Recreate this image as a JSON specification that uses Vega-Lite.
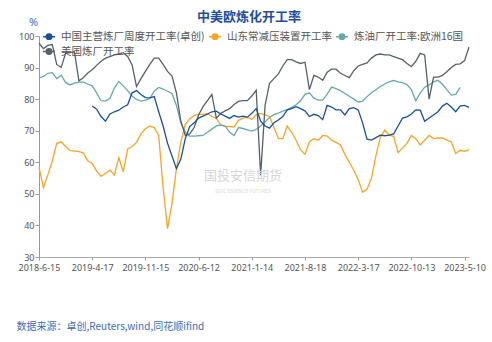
{
"$schema": "https://vega.github.io/schema/vega-lite/v6.json",
"width": 430, "height": 221,
"autosize": {"type": "none"},
"padding": {"left": 39, "top": 36, "right": 23, "bottom": 85},
"background": "white",
"title": {"text": "中美欧炼化开工率", "fontSize": 13, "font": "Noto Sans CJK SC", "fontWeight": "bold", "color": "#1F4E9E", "anchor": "middle", "dx": -5, "dy": 12},
"config": {"view": {"stroke": null}},
"data": {"values": [
{"d":"2018-06-15","cn":null,"sd":58.4,"eu":86.7,"us":97.7},
{"d":"2018-07-10","cn":null,"sd":52,"eu":87.2,"us":96},
{"d":"2018-08-05","cn":null,"sd":56,"eu":88.2,"us":97},
{"d":"2018-08-30","cn":null,"sd":60.5,"eu":88.4,"us":97.3},
{"d":"2018-09-25","cn":null,"sd":66,"eu":86.5,"us":91},
{"d":"2018-10-20","cn":null,"sd":66.5,"eu":87.6,"us":90},
{"d":"2018-11-15","cn":null,"sd":65,"eu":85.3,"us":94.5},
{"d":"2018-12-10","cn":null,"sd":63.7,"eu":84.5,"us":94.7},
{"d":"2019-01-05","cn":null,"sd":63.6,"eu":85.1,"us":95},
{"d":"2019-01-30","cn":null,"sd":63.4,"eu":85.4,"us":85.8},
{"d":"2019-02-25","cn":null,"sd":63,"eu":85.4,"us":86.8},
{"d":"2019-03-22","cn":null,"sd":60.5,"eu":84.8,"us":88.3},
{"d":"2019-04-17","cn":77.8,"sd":59.6,"eu":84.2,"us":89.3},
{"d":"2019-05-05","cn":76.8,"sd":57.2,"eu":82,"us":90.7},
{"d":"2019-05-22","cn":74.5,"sd":55.5,"eu":79.5,"us":92},
{"d":"2019-06-09","cn":73,"sd":56.5,"eu":79.4,"us":93},
{"d":"2019-06-27","cn":75.3,"sd":57.5,"eu":80.3,"us":93.5},
{"d":"2019-07-15","cn":76,"sd":56,"eu":83.5,"us":94},
{"d":"2019-08-01","cn":76.5,"sd":61.5,"eu":85.6,"us":94.3},
{"d":"2019-08-19","cn":77.5,"sd":57,"eu":84.2,"us":94.7},
{"d":"2019-09-06","cn":78.2,"sd":64.2,"eu":82.7,"us":93.5},
{"d":"2019-09-23","cn":82,"sd":65,"eu":81,"us":90.8},
{"d":"2019-10-11","cn":82.7,"sd":66.3,"eu":79.9,"us":84},
{"d":"2019-10-29","cn":81.5,"sd":69,"eu":79.4,"us":86.5},
{"d":"2019-11-15","cn":80.5,"sd":70.6,"eu":79.7,"us":88.8},
{"d":"2019-12-03","cn":80.4,"sd":71.5,"eu":80.2,"us":91},
{"d":"2019-12-20","cn":80.8,"sd":71,"eu":82.5,"us":93},
{"d":"2020-01-07","cn":76,"sd":68.5,"eu":83.7,"us":93},
{"d":"2020-01-24","cn":71.5,"sd":52,"eu":83.2,"us":91},
{"d":"2020-02-11","cn":66,"sd":39,"eu":82.5,"us":88.8},
{"d":"2020-02-28","cn":62,"sd":47,"eu":81.8,"us":87.3},
{"d":"2020-03-17","cn":58,"sd":58,"eu":78,"us":82},
{"d":"2020-04-03","cn":61,"sd":66.5,"eu":72.5,"us":73},
{"d":"2020-04-21","cn":67.5,"sd":72,"eu":69.5,"us":68.5},
{"d":"2020-05-08","cn":71.3,"sd":73.8,"eu":68.3,"us":69},
{"d":"2020-05-26","cn":72.5,"sd":74.8,"eu":68.3,"us":71},
{"d":"2020-06-12","cn":74,"sd":75.2,"eu":68.4,"us":75},
{"d":"2020-06-30","cn":74.6,"sd":75.2,"eu":68.5,"us":77.6},
{"d":"2020-07-18","cn":75.3,"sd":75.4,"eu":69.5,"us":79.5},
{"d":"2020-08-05","cn":76,"sd":74.5,"eu":70.5,"us":81.5},
{"d":"2020-08-23","cn":76.2,"sd":74,"eu":71.5,"us":74},
{"d":"2020-09-10","cn":75.3,"sd":71.8,"eu":71.8,"us":75.5},
{"d":"2020-09-28","cn":74.6,"sd":71.3,"eu":71.5,"us":76.3},
{"d":"2020-10-16","cn":73.9,"sd":71.4,"eu":69.5,"us":77},
{"d":"2020-11-03","cn":74.8,"sd":71.2,"eu":68.5,"us":78.3},
{"d":"2020-11-21","cn":74.3,"sd":73.3,"eu":71,"us":79.3},
{"d":"2020-12-09","cn":74.6,"sd":74,"eu":70.7,"us":79.5},
{"d":"2020-12-27","cn":74.3,"sd":74.2,"eu":70.3,"us":79.5},
{"d":"2021-01-14","cn":75.5,"sd":73.6,"eu":69.9,"us":81},
{"d":"2021-02-01","cn":77,"sd":75,"eu":70.4,"us":82.8},
{"d":"2021-02-19","cn":73,"sd":75.5,"eu":71.5,"us":56},
{"d":"2021-03-09","cn":71.5,"sd":75,"eu":72.8,"us":78},
{"d":"2021-03-27","cn":70.8,"sd":74.5,"eu":74.2,"us":85},
{"d":"2021-04-14","cn":72.5,"sd":71,"eu":75.1,"us":86.5},
{"d":"2021-05-02","cn":73.4,"sd":67.5,"eu":75.6,"us":88},
{"d":"2021-05-20","cn":74.5,"sd":67.5,"eu":76.2,"us":90.5},
{"d":"2021-06-07","cn":76.6,"sd":71.5,"eu":76.7,"us":92.5},
{"d":"2021-06-25","cn":77,"sd":69.5,"eu":77.4,"us":92.5},
{"d":"2021-07-13","cn":77.6,"sd":67,"eu":78.2,"us":91.8},
{"d":"2021-07-31","cn":77,"sd":64,"eu":79.5,"us":91.3},
{"d":"2021-08-18","cn":76.3,"sd":62.5,"eu":81.5,"us":91.7},
{"d":"2021-09-05","cn":74.5,"sd":66.5,"eu":82,"us":83},
{"d":"2021-09-22","cn":75.2,"sd":67.5,"eu":80.3,"us":87.5},
{"d":"2021-10-10","cn":74.8,"sd":67,"eu":79.7,"us":87},
{"d":"2021-10-27","cn":73.5,"sd":68.5,"eu":79.7,"us":86},
{"d":"2021-11-14","cn":78,"sd":68.3,"eu":81.6,"us":88.5},
{"d":"2021-12-02","cn":77.5,"sd":67,"eu":83.8,"us":89.5},
{"d":"2021-12-19","cn":76.6,"sd":66.3,"eu":83.3,"us":89.5},
{"d":"2022-01-06","cn":76.6,"sd":65.5,"eu":82.7,"us":88.2},
{"d":"2022-01-23","cn":75,"sd":62.5,"eu":81.8,"us":87.5},
{"d":"2022-02-10","cn":77,"sd":60,"eu":80.9,"us":86.8},
{"d":"2022-02-27","cn":77.3,"sd":57.5,"eu":80,"us":89},
{"d":"2022-03-17","cn":76.6,"sd":54.5,"eu":79.1,"us":90.5},
{"d":"2022-04-04","cn":72.5,"sd":50.5,"eu":79.4,"us":91},
{"d":"2022-04-21","cn":67.3,"sd":51.5,"eu":80.8,"us":91.5},
{"d":"2022-05-09","cn":67,"sd":55,"eu":82,"us":93},
{"d":"2022-05-26","cn":67.8,"sd":62,"eu":83,"us":94},
{"d":"2022-06-13","cn":68.6,"sd":68,"eu":84,"us":94.3},
{"d":"2022-06-30","cn":68.4,"sd":70.2,"eu":84.8,"us":94},
{"d":"2022-07-18","cn":68.6,"sd":68.6,"eu":85.5,"us":94},
{"d":"2022-08-04","cn":69,"sd":68.2,"eu":85.9,"us":93.5},
{"d":"2022-08-22","cn":71.5,"sd":63,"eu":85.5,"us":93},
{"d":"2022-09-08","cn":74,"sd":64.5,"eu":85.2,"us":92.5},
{"d":"2022-09-26","cn":74.4,"sd":66,"eu":84.6,"us":91.3},
{"d":"2022-10-13","cn":75.3,"sd":68.5,"eu":83,"us":90.3},
{"d":"2022-10-30","cn":76.6,"sd":67.5,"eu":79.5,"us":92},
{"d":"2022-11-17","cn":76.5,"sd":65.5,"eu":82,"us":94.5},
{"d":"2022-12-04","cn":73,"sd":67,"eu":83.8,"us":94},
{"d":"2022-12-22","cn":74,"sd":68.5,"eu":84.5,"us":80},
{"d":"2023-01-08","cn":75,"sd":67.5,"eu":85.5,"us":87},
{"d":"2023-01-26","cn":76,"sd":67.7,"eu":86,"us":87},
{"d":"2023-02-12","cn":77.8,"sd":67.7,"eu":84.7,"us":87.5},
{"d":"2023-03-02","cn":78.7,"sd":67,"eu":83,"us":88.7},
{"d":"2023-03-19","cn":77.5,"sd":66.5,"eu":81.3,"us":90},
{"d":"2023-04-06","cn":76,"sd":62.8,"eu":81.5,"us":91},
{"d":"2023-04-23","cn":77.8,"sd":63.8,"eu":83.7,"us":91.2},
{"d":"2023-05-10","cn":78,"sd":63.5,"eu":null,"us":92.2},
{"d":"2023-05-27","cn":77.4,"sd":64,"eu":null,"us":96.5}
]},
"layer": [
{
"transform": [{"fold": ["cn","sd","eu","us"], "as": ["s","v"]}, {"filter": "isValid(datum.v)"}],
"mark": {"type": "line", "strokeWidth": 1.3},
"encoding": {
"x": {"field": "d", "type": "ordinal", "scale": {"type": "point", "padding": 0},
 "axis": {"values": ["2018-06-15","2019-04-17","2019-11-15","2020-06-12","2021-01-14","2021-08-18","2022-03-17","2022-10-13","2023-05-10"],
  "labelExpr": "replace(replace(datum.value, '-0', '-'), '-0', '-')",
  "labelAngle": 0, "labelFontSize": 9, "labelFont": "Noto Sans", "labelColor": "#555555", "labelPadding": 3, "labelOverlap": false,
  "tickSize": 3, "tickColor": "#999999", "domainColor": "#aaaaaa", "grid": false,
  "title": "数据来源：卓创,Reuters,wind,同花顺ifind", "titleX": -23, "titleY": 69, "titleAlign": "left", "titleBaseline": "middle",
  "titleColor": "#3D6BB3", "titleFontSize": 10, "titleFont": "Noto Sans CJK SC", "titleFontWeight": "normal"}},
"y": {"field": "v", "type": "quantitative", "scale": {"domain": [30, 100], "nice": false},
 "axis": {"tickCount": 8, "labelFontSize": 9, "labelFont": "Noto Sans", "labelColor": "#555555", "labelPadding": 1, "labelOverlap": false, "labelBound": false, "labelFlush": false,
  "tickSize": 4, "tickColor": "#999999", "domainColor": "#999999", "grid": false,
  "title": "%", "titleAngle": 0, "titleX": -6, "titleY": -14, "titleAlign": "center", "titleBaseline": "middle",
  "titleColor": "#4472C4", "titleFontSize": 11, "titleFont": "Noto Sans", "titleFontWeight": "normal"}},
"color": {"field": "s", "type": "nominal",
 "scale": {"domain": ["cn","sd","eu","us"], "range": ["#1B4F9C","#F7A428","#66A9AB","#56616B"]},
 "legend": {"orient": "none", "legendX": 3, "legendY": -6.5, "direction": "horizontal", "columns": 3, "title": null,
  "labelExpr": "{'cn':'中国主营炼厂周度开工率(卓创)','sd':'山东常减压装置开工率','eu':'炼油厂开工率:欧洲16国','us':'美国炼厂开工率'}[datum.value]",
  "symbolType": "M-1,0L1,0M0.45,0A0.45,0.45,0,1,1,-0.45,0A0.45,0.45,0,1,1,0.45,0Z",
  "symbolSize": 144, "symbolStrokeWidth": 1.5, "labelFontSize": 10.5, "labelFont": "Noto Sans CJK SC", "labelColor": "#555555",
  "columnPadding": 1, "rowPadding": 2, "labelOffset": 5,
  "encode": {"symbols": {"update": {"fill": {"scale": "color", "field": "value"}}}}}}
}
},
{
"data": {"values": [{"t": "国投安信期货"}]},
"mark": {"type": "text", "fontSize": 13, "font": "Noto Sans CJK SC", "color": "#d6d6d6"},
"encoding": {"x": {"datum": "2020-12-09", "type": "ordinal"}, "y": {"datum": 55.7, "type": "quantitative"}, "text": {"field": "t"}}
},
{
"data": {"values": [{"t": "SDIC ESSENCE FUTURES"}]},
"mark": {"type": "text", "fontSize": 5, "font": "Noto Sans", "color": "#dcdcdc"},
"encoding": {"x": {"datum": "2020-12-09", "type": "ordinal"}, "y": {"datum": 51, "type": "quantitative"}, "text": {"field": "t"}}
}
]
}
